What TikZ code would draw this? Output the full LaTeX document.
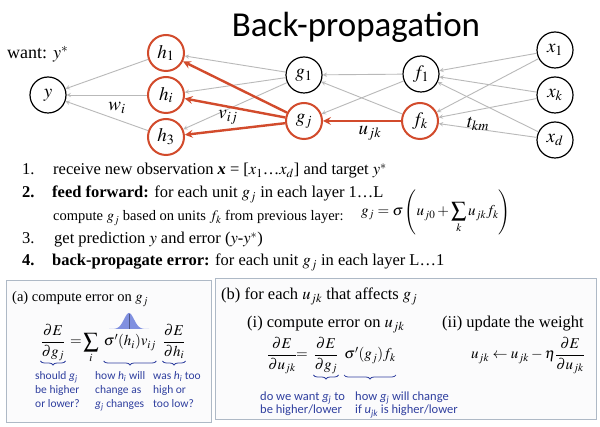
\documentclass[tikz,border=0pt]{standalone}
\usepackage{mathptmx}
\usepackage{fontspec}
\setmainfont{Liberation Serif}
\newfontfamily\titlefont{Carlito}
\newfontfamily\notefont{Carlito}
\usetikzlibrary{decorations.pathreplacing}
\definecolor{hotred}{HTML}{D24B2C}
\definecolor{edgegray}{HTML}{B9B9B9}
\definecolor{noteblue}{HTML}{2F3F9F}
\definecolor{boxline}{HTML}{AEB9C6}
\definecolor{boxfill}{HTML}{FBFBFC}
\definecolor{bellblue}{HTML}{8090E0}
\begin{document}
\begin{tikzpicture}[x=1pt,y=-1pt,>=stealth,
	unit/.style={circle,draw,line width=1.2pt,minimum size=36pt,inner sep=0pt,font=\fontsize{19}{22}\selectfont},
	hot/.style={unit,draw=hotred,line width=2pt},
	fwd/.style={->,draw=edgegray,line width=0.9pt},
	bwd/.style={->,draw=hotred,line width=2.4pt},
	wlabel/.style={font=\fontsize{19}{22}\selectfont},
	item/.style={anchor=base west,inner sep=0pt,font=\fontsize{16.5}{20}\selectfont},
	panel/.style={draw=boxline,fill=boxfill,line width=1pt},
	note/.style={anchor=north west,align=left,inner sep=0pt,text=noteblue},
	cbrace/.style={draw=noteblue,line width=0.8pt,decorate,decoration={brace,mirror,amplitude=4pt}},
	eqn/.style={anchor=base,inner sep=0pt,font=\fontsize{15}{18}\selectfont}]
		\fill[white] (0,0) rectangle (600,427);
		\useasboundingbox (0,0) rectangle (600,427);

		\node[anchor=base,font=\titlefont\fontsize{35}{40}\selectfont] (title) at (356,37) {Back-propagation};

		% Network
		\node[anchor=base west,inner sep=0pt,font=\fontsize{18}{22}\selectfont] (want) at (7,59) {want: $y^*$};
		\node[unit] (y) at (48,95) {$y$};
		\node[hot] (h1) at (166,53) {$h_1$};
		\node[hot] (hi) at (166,95) {$h_i$};
		\node[hot] (h3) at (166,137) {$h_3$};
		\node[unit] (g1) at (304,75) {$g_1$};
		\node[hot] (gj) at (304,121) {$g_j$};
		\node[unit] (f1) at (421,74) {$f_1$};
		\node[hot] (fk) at (420,121) {$f_k$};
		\node[unit] (x1) at (555,50) {$x_1$};
		\node[unit] (xk) at (555,95) {$x_k$};
		\node[unit] (xd) at (555,140) {$x_d$};

		\draw[fwd] (h1) -- (y);
		\draw[fwd] (hi) -- (y);
		\draw[fwd] (h3) -- (y);
		\draw[fwd] (g1) -- (h1);
		\draw[fwd] (g1) -- (hi);
		\draw[fwd] (g1) -- (h3);
		\draw[fwd] (f1) -- (g1);
		\draw[fwd] (f1) -- (gj);
		\draw[fwd] (fk) -- (g1);
		\draw[fwd] (x1) -- (f1);
		\draw[fwd] (x1) -- (fk);
		\draw[fwd] (xk) -- (f1);
		\draw[fwd] (xk) -- (fk);
		\draw[fwd] (xd) -- (f1);
		\draw[fwd] (xd) -- (fk);

		\draw[bwd] (gj) -- (h1);
		\draw[bwd] (gj) -- (hi);
		\draw[bwd] (gj) -- (h3);
		\draw[bwd] (fk) -- (gj);

		\node[wlabel] (wi) at (117,108) {$w_i$};
		\node[wlabel] (vij) at (228,117) {$v_{ij}$};
		\node[wlabel] (ujk) at (370,133) {$u_{jk}$};
		\node[wlabel] (tkm) at (478,124) {$t_{km}$};

		% Steps
		\node[item] (n1) at (22,175) {1.};
		\node[item] (s1) at (53,175) {receive new observation \textbf{\textit{x}} = [$x_1$\ldots$x_d$] and target $y^*$};
		\node[item] (n2) at (22,198) {\textbf{2.}};
		\node[item] (s2) at (52,198) {\textbf{feed forward:} for each unit $g_j$ in each layer 1\ldots L};
		\node[item,font=\fontsize{14.5}{18}\selectfont] (s2b) at (53,221) {compute $g_j$ based on units $f_k$ from previous layer:};
		\node[anchor=west,inner sep=0pt,font=\fontsize{15}{18}\selectfont] (s2eq) at (361,212) {$\displaystyle g_j=\sigma\left(u_{j0}+\sum_k u_{jk}f_k\right)$};
		\node[item] (n3) at (22,244) {3.};
		\node[item] (s3) at (54,244) {get prediction $y$ and error ($y$-$y^*$)};
		\node[item] (n4) at (22,266) {\textbf{4.}};
		\node[item] (s4) at (52,266) {\textbf{back-propagate error:} for each unit $g_j$ in each layer L\ldots 1};

		% Box (a)
		\draw[panel] (6,281) rectangle (211,423);
		\node[anchor=base west,inner sep=0pt,font=\fontsize{14.5}{17}\selectfont] (atitle) at (12,302) {(a) compute error on $g_j$};
		\node[eqn] (alhs) at (53,346) {$\displaystyle\frac{\partial E}{\partial g_j}$};
		\node[eqn] (aeq) at (76,346) {$=$};
		\node[eqn] (asum) at (91,346) {$\displaystyle\sum_i$};
		\node[eqn] (amid) at (130,346) {$\sigma'(h_i)v_{ij}$};
		\node[eqn] (arhs) at (174,346) {$\displaystyle\frac{\partial E}{\partial h_i}$};
		\fill[bellblue] plot[domain=-20:20,samples=41] ({129+\x},{329-16*exp(-(\x*\x)/50)});
		\draw[bellblue!60!black,line width=0.5pt] (129,329) -- (129,314);
		\coordinate (abr) at (0,361);
		\draw[cbrace] (alhs.west |- abr) -- (alhs.east |- abr);
		\draw[cbrace] (amid.west |- abr) -- (amid.east |- abr);
		\draw[cbrace] (arhs.west |- abr) -- (arhs.east |- abr);
		\node[note,font=\notefont\fontsize{11.5}{14}\selectfont] (na1) at (35,371) {should \textit{g}\textsubscript{\textit{j}}\\be higher\\or lower?};
		\node[note,font=\notefont\fontsize{11.5}{14}\selectfont] (na2) at (95,371) {how \textit{h}\textsubscript{\textit{i}} will\\change as\\\textit{g}\textsubscript{\textit{j}} changes};
		\node[note,font=\notefont\fontsize{11.5}{14}\selectfont] (na3) at (153,371) {was \textit{h}\textsubscript{\textit{i}} too\\high or\\too low?};

		% Box (b)
		\draw[panel] (215,279) rectangle (596,420);
		\node[item] (btitle) at (221,300) {(b) for each $u_{jk}$ that affects $g_j$};
		\node[item] (bi) at (247,328) {(i) compute error on $u_{jk}$};
		\node[item] (bii) at (442,328) {(ii) update the weight};
		\node[eqn] (blhs) at (282,359) {$\displaystyle\frac{\partial E}{\partial u_{jk}}$};
		\node[eqn] (beq) at (302,359) {$=$};
		\node[eqn] (bdg) at (326,359) {$\displaystyle\frac{\partial E}{\partial g_j}$};
		\node[eqn] (bmid) at (370,359) {$\sigma'(g_j)f_k$};
		\node[eqn] (bupd) at (528,359) {$u_{jk}\leftarrow u_{jk}-\eta\displaystyle\frac{\partial E}{\partial u_{jk}}$};
		\coordinate (bbr) at (0,375);
		\draw[cbrace] (bdg.west |- bbr) -- (bdg.east |- bbr);
		\draw[cbrace] (bmid.west |- bbr) -- (bmid.east |- bbr);
		\node[note,font=\notefont\fontsize{12.5}{13}\selectfont] (nb1) at (260,392) {do we want \textit{g}\textsubscript{\textit{j}} to\\be higher/lower};
		\node[note,font=\notefont\fontsize{12.5}{13}\selectfont] (nb2) at (355,392) {how \textit{g}\textsubscript{\textit{j}} will change\\if \textit{u}\textsubscript{\textit{jk}} is higher/lower};
	\end{tikzpicture}
\end{document}
